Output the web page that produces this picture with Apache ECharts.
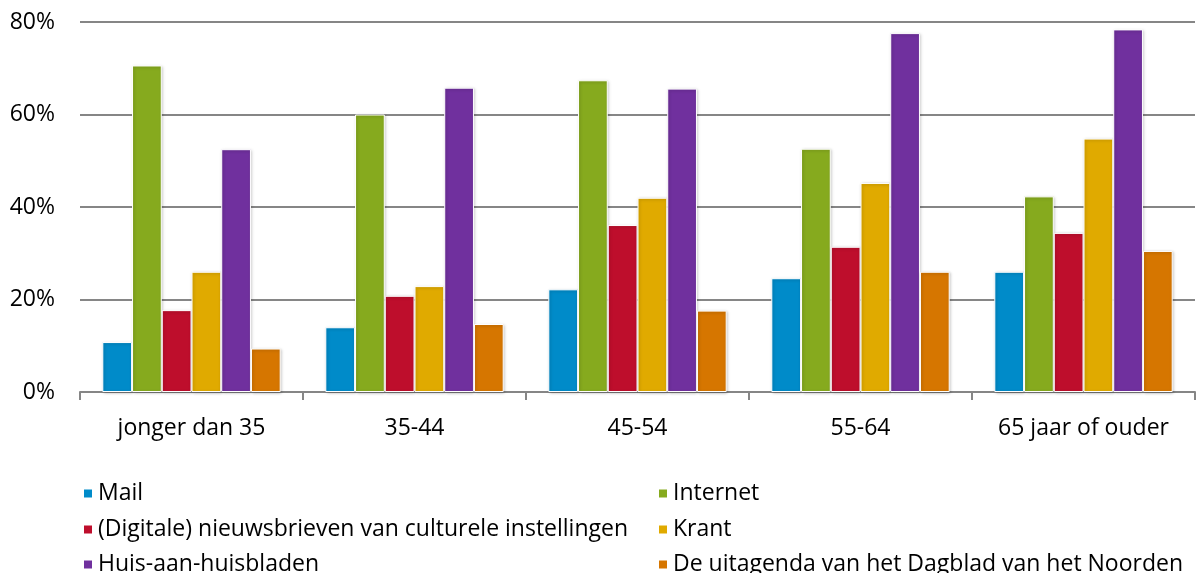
<!DOCTYPE html>
<html>
<head>
<meta charset="utf-8">
<script src="https://cdn.jsdelivr.net/npm/echarts@6/dist/echarts.min.js"></script>
<style>
  html, body { margin: 0; padding: 0; background: #fff; }
  #main { width: 1196px; height: 573px; }
</style>
</head>
<body>
<div id="main"></div>
<script>
const categories = ['jonger dan 35', '35-44', '45-54', '55-64', '65 jaar of ouder'];
const yTicks = [0, 20, 40, 60, 80];

const seriesNames = [
  'Mail',
  'Internet',
  '(Digitale) nieuwsbrieven van culturele instellingen',
  'Krant',
  'Huis-aan-huisbladen',
  'De uitagenda van het Dagblad van het Noorden'
];
const mail = [10.8, 14.0, 22.2, 24.6, 26.0];
const internet = [70.6, 60.0, 67.4, 52.6, 42.3];
const nieuwsbrieven = [17.7, 20.8, 36.1, 31.4, 34.4];
const krant = [26.0, 22.9, 42.0, 45.2, 54.8];
const huisAanHuis = [52.5, 65.8, 65.6, 77.6, 78.4];
const uitagenda = [9.4, 14.7, 17.6, 26.0, 30.5];

const colors = ['#008bc9', '#86aa1e', '#be0e2c', '#e0aa00', '#70309e', '#d67600'];
const values = [mail, internet, nieuwsbrieven, krant, huisAanHuis, uitagenda];

const font = '"Open Sans", sans-serif';
const chart = echarts.init(document.getElementById('main'));

const series = seriesNames.map(function (name, i) {
  return {
    name: name,
    type: 'bar',
    data: values[i],
    barGap: '0%',
    barCategoryGap: '20%',
    itemStyle: {
      color: colors[i],
      borderColor: '#ffffff',
      borderWidth: 1,
      shadowBlur: 3,
      shadowColor: 'rgba(0,0,0,0.25)',
      shadowOffsetX: 1,
      shadowOffsetY: 1
    }
  };
});

// one legend per entry, laid out as two columns of three rows
const legendCols = [77, 652];
const legendRows = [477, 513, 548];
const legends = seriesNames.map(function (name, i) {
  return {
    data: [name],
    left: legendCols[i % 2],
    top: legendRows[Math.floor(i / 2)],
    icon: 'rect', itemWidth: 10, itemHeight: 10,
    textStyle: { fontFamily: font, fontSize: 23, color: '#000' }
  };
});

chart.setOption({
  animation: false,
  color: colors,
  grid: { left: 80, right: 1, top: 22, bottom: 181, containLabel: false },
  legend: legends,
  xAxis: {
    type: 'category',
    data: categories,
    axisLine: { lineStyle: { color: '#868686', width: 2 } },
    axisTick: { show: true, length: 8, lineStyle: { color: '#868686', width: 2 } },
    axisLabel: { fontFamily: font, fontSize: 23, color: '#000', margin: 25 }
  },
  yAxis: {
    type: 'value',
    min: yTicks[0],
    max: yTicks[yTicks.length - 1],
    interval: 20,
    axisLine: { show: false },
    axisTick: { show: false },
    axisLabel: { fontFamily: font, fontSize: 23, color: '#000', margin: 25, formatter: '{value}%' },
    splitLine: { lineStyle: { color: '#868686', width: 2 } }
  },
  series: series
});
</script>
</body>
</html>
